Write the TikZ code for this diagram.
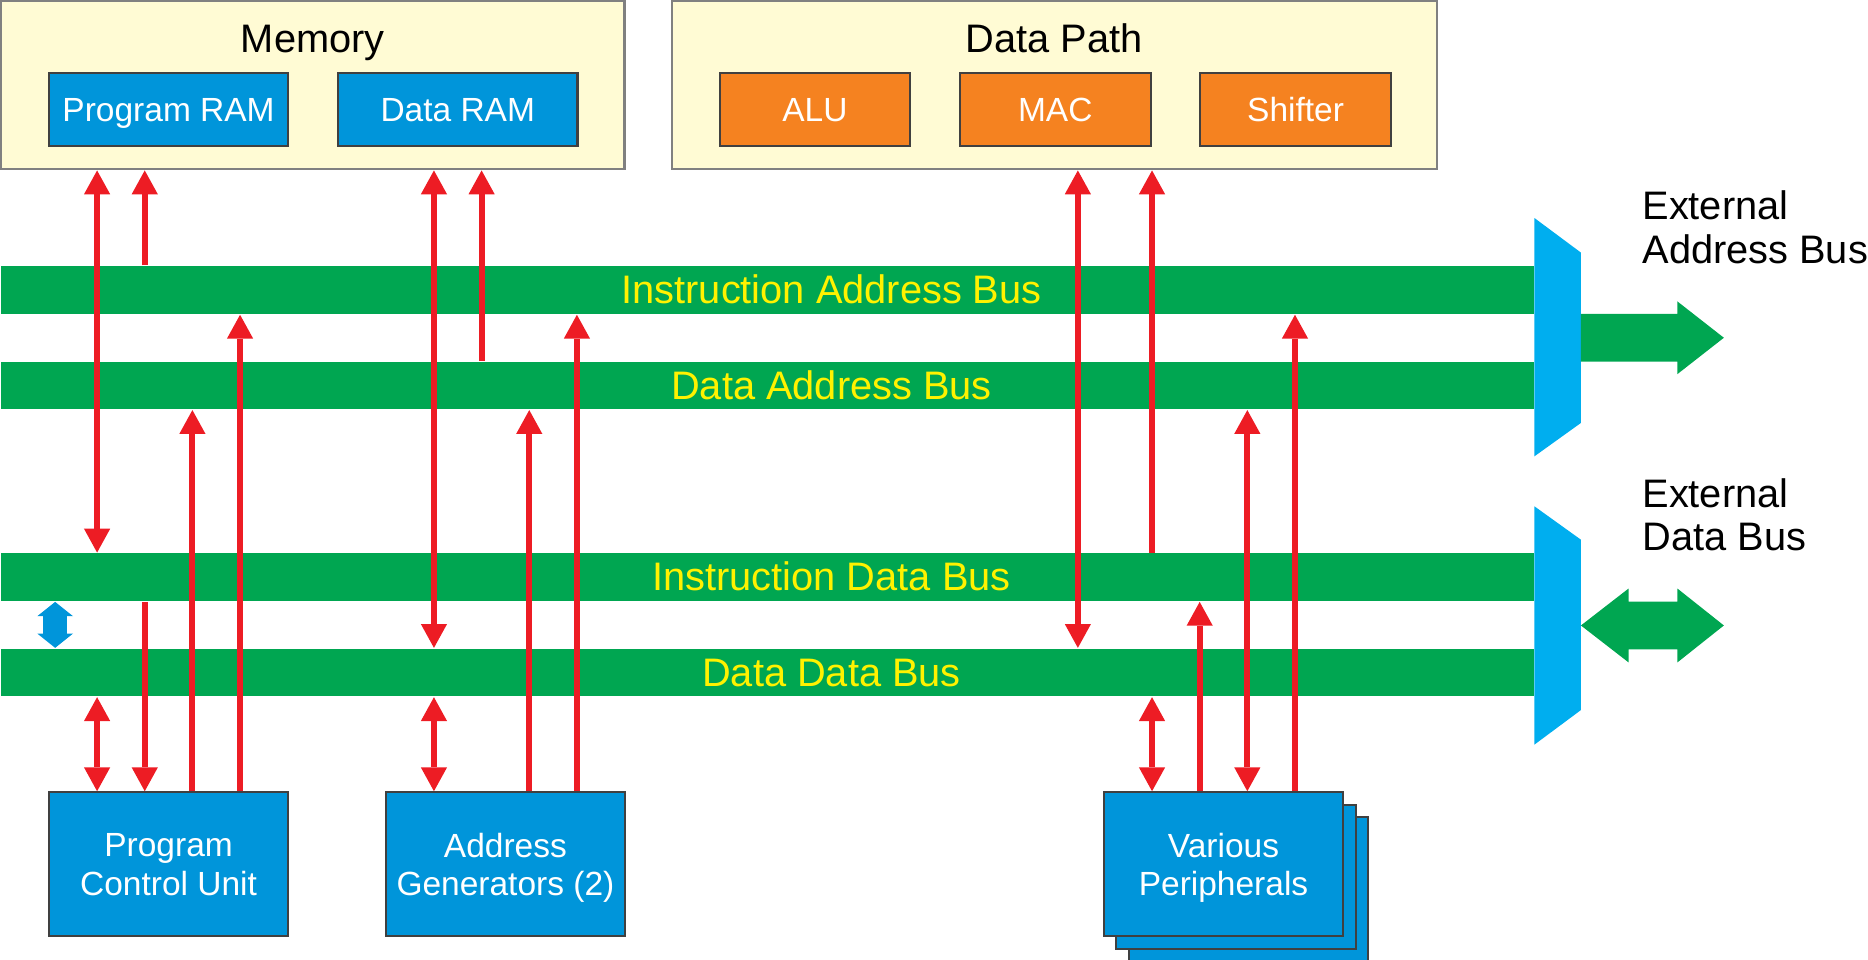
\documentclass[tikz,border=0pt]{standalone}
\usepackage{fontspec}
\setmainfont{Liberation Sans}
\usetikzlibrary{positioning,arrows.meta}

\definecolor{panelcream}{HTML}{FFFBD4}
\definecolor{unitblue}{HTML}{0095DA}
\definecolor{aluorange}{HTML}{F58220}
\definecolor{busgreen}{HTML}{00A651}
\definecolor{busyellow}{HTML}{FFF200}
\definecolor{wirered}{HTML}{ED1C24}
\definecolor{muxblue}{HTML}{00AEEF}

\begin{document}
\begin{tikzpicture}[
    x=1cm, y=-1cm,
    >={Triangle[width=2.2mm,length=2mm,line width=0pt]},
    font=\fontsize{9.5}{10.4}\selectfont,
    panel/.style={rectangle,draw=black!50,fill=panelcream,line width=0.6pt,
      minimum height=1.41cm,inner sep=0pt},
    paneltitle/.style={anchor=base,inner sep=0pt},
    unitbox/.style={rectangle,draw=black!75,fill=unitblue,text=white,line width=0.5pt,
      minimum width=2.01cm,inner sep=0pt,font=\fontsize{8}{9.2}\selectfont},
    memunit/.style={unitbox,minimum height=0.61cm,text height=5.7pt,text depth=0pt},
    dpunit/.style={memunit,fill=aluorange,minimum width=1.6cm},
    unit/.style={unitbox,minimum height=1.21cm,align=center,text depth=0pt},
    bus/.style={rectangle,fill=busgreen,minimum width=12.87cm,minimum height=0.4cm,inner sep=0pt},
    buslabel/.style={text=busyellow,anchor=base,inner sep=0pt},
    wire/.style={draw=wirered,line width=0.05cm},
    linkarrow/.style={draw=unitblue,line width=2mm,
      {Triangle[width=3mm,length=1.2mm,line width=0pt]}-{Triangle[width=3mm,length=1.2mm,line width=0pt]}},
    extlabel/.style={anchor=north west,align=left,inner sep=0pt}
    ]

    \useasboundingbox (0,0) rectangle (15.68,8.058);

    % memory and data path:
    \node[panel,minimum width=5.23cm] (mem) at (2.625,0.715) {};
    \node[panel,minimum width=6.42cm] (dpath) at (8.85,0.715) {};
    \node[paneltitle] (memt) at ([yshift=-4.4mm]mem.north) {Memory};
    \node[paneltitle] (dpatht) at ([yshift=-4.4mm]dpath.north) {Data Path};

    \node[memunit] (pram) at (1.415,0.92) {Program RAM};
    \node[memunit,right=4mm of pram] (dram) {Data RAM};
    \node[dpunit] (alu) at (6.84,0.92) {ALU};
    \node[dpunit,right=4mm of alu] (mac) {MAC};
    \node[dpunit,right=4mm of mac] (shft) {Shifter};

    % buses:
    \foreach \n/\y/\t in {iab/2.435/Instruction Address Bus,%
                          dab/3.235/Data Address Bus,%
                          idb/4.845/Instruction Data Bus,%
                          ddb/5.645/Data Data Bus} {
      \node[bus] (\n) at (6.445,\y) {};
      \node[buslabel] (\n-l) at ([xshift=5.35mm,yshift=-1.15mm]\n.center) {\t};
    }

    % units below the buses:
    \node[unit] (pcu) at (1.415,7.255) {Program\\Control Unit};
    \node[unit,right=8mm of pcu] (agen) {Address\\Generators (2)};
    \node[unit] (per3) at (10.48,7.465) {};
    \node[unit] (per2) at (10.375,7.36) {};
    \node[unit] (per) at (10.27,7.255) {Various\\Peripherals};

    % program control unit:
    \draw[wire,<->] ([xshift=-6mm]pcu.north |- mem.south) -- ([xshift=-6mm]pcu.north |- idb.north);
    \draw[wire,->] ([xshift=-2mm]pcu.north |- iab.north) -- ([xshift=-2mm]pcu.north |- mem.south);
    \draw[wire,<->] ([xshift=-6mm]pcu.north |- ddb.south) -- ([xshift=-6mm]pcu.north);
    \draw[wire,->] ([xshift=-2mm]pcu.north |- idb.south) -- ([xshift=-2mm]pcu.north);
    \draw[wire,->] ([xshift=2mm]pcu.north) -- ([xshift=2mm]pcu.north |- dab.south);
    \draw[wire,->] ([xshift=6mm]pcu.north) -- ([xshift=6mm]pcu.north |- iab.south);

    % address generators:
    \draw[wire,<->] ([xshift=-6mm]agen.north |- mem.south) -- ([xshift=-6mm]agen.north |- ddb.north);
    \draw[wire,->] ([xshift=-2mm]agen.north |- dab.north) -- ([xshift=-2mm]agen.north |- mem.south);
    \draw[wire,<->] ([xshift=-6mm]agen.north |- ddb.south) -- ([xshift=-6mm]agen.north);
    \draw[wire,->] ([xshift=2mm]agen.north) -- ([xshift=2mm]agen.north |- dab.south);
    \draw[wire,->] ([xshift=6mm]agen.north) -- ([xshift=6mm]agen.north |- iab.south);

    % data path and peripherals:
    \draw[wire,<->] ([xshift=1.9mm]mac.south |- dpath.south) -- ([xshift=1.9mm]mac.south |- ddb.north);
    \draw[wire,->] ([xshift=-6mm]per.north |- idb.north) -- ([xshift=-6mm]per.north |- dpath.south);
    \draw[wire,<->] ([xshift=-6mm]per.north |- ddb.south) -- ([xshift=-6mm]per.north);
    \draw[wire,->] ([xshift=-2mm]per.north) -- ([xshift=-2mm]per.north |- idb.south);
    \draw[wire,<->] ([xshift=2mm]per.north) -- ([xshift=2mm]per.north |- dab.south);
    \draw[wire,->] ([xshift=6mm]per.north) -- ([xshift=6mm]per.north |- iab.south);

    % link between the two data buses:
    \draw[linkarrow] ([xshift=4.6mm]idb.south west) -- ([xshift=4.6mm]ddb.north west);

    % bus switches and external buses:
    \fill[muxblue] (12.88,1.83) -- (13.27,2.12) -- (13.27,3.55) -- (12.88,3.83) -- cycle;
    \fill[muxblue] (12.88,4.25) -- (13.27,4.53) -- (13.27,5.96) -- (12.88,6.25) -- cycle;
    \coordinate (amux) at (13.27,2.835);
    \coordinate (dmux) at (13.27,5.25);
    \fill[busgreen] (amux) ++(0,-0.2) -- ++(0.81,0) -- ++(0,-0.105) -- ++(0.39,0.305)
      -- ++(-0.39,0.305) -- ++(0,-0.105) -- ++(-0.81,0) -- cycle;
    \fill[busgreen] (dmux) -- ++(0.4,-0.31) -- ++(0,0.11) -- ++(0.41,0) -- ++(0,-0.11)
      -- ++(0.39,0.31) -- ++(-0.39,0.31) -- ++(0,-0.11) -- ++(-0.41,0) -- ++(0,0.11) -- cycle;
    \node[extlabel] (exta) at (13.78,1.595) {External\\Address Bus};
    \node[extlabel] (extd) at (13.78,4.01) {External\\Data Bus};

  \end{tikzpicture}
\end{document}
